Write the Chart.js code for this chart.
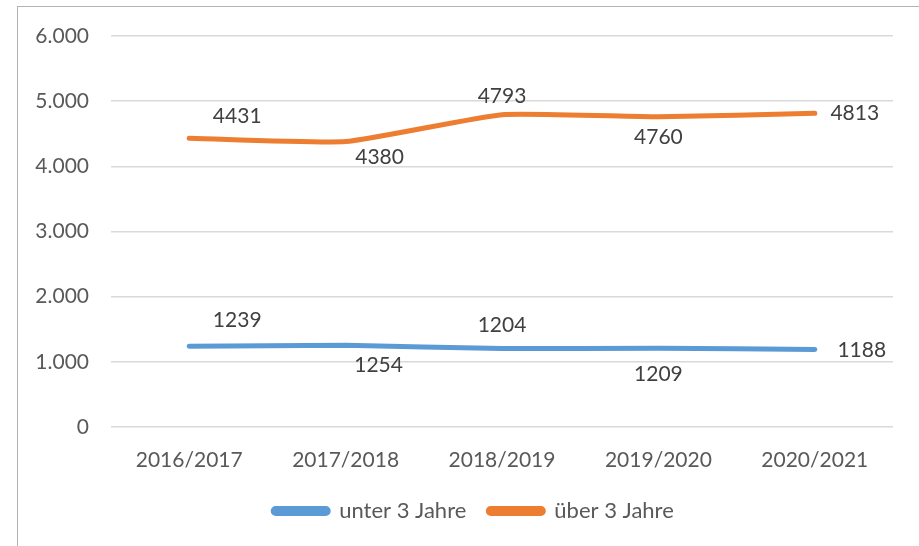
<!DOCTYPE html>
<html>
<head>
<meta charset="utf-8">
<script src="https://cdn.jsdelivr.net/npm/chart.js@4"></script>
<style>
  html, body { margin: 0; padding: 0; background: #fff; }
  #wrap { position: relative; width: 919px; height: 546px; overflow: hidden; }
  #frame { position: absolute; left: 17px; top: 6px; width: 1000px; height: 700px; border: 1px solid #b3b3b3; }
  canvas { position: absolute; left: 0; top: 0; }
</style>
</head>
<body>
<div id="wrap">
  <div id="frame"></div>
  <canvas id="lineChart" width="919" height="546"></canvas>
</div>
<script>
const years = ['2016/2017', '2017/2018', '2018/2019', '2019/2020', '2020/2021'];
const unter3 = [1239, 1254, 1204, 1209, 1188];
const ueber3 = [4431, 4380, 4793, 4760, 4813];
const yTicks = [0, 1000, 2000, 3000, 4000, 5000, 6000];

const textColor = '#595959';
const fontFamily = 'Lato, "Open Sans", sans-serif';

// draws the value next to each point, offsets come from the dataset config
const valueLabels = {
    id: 'valueLabels',
    afterDatasetsDraw(chart) {
        const ctx = chart.ctx;
        ctx.save();
        ctx.font = '21px ' + fontFamily;
        ctx.fillStyle = '#404040';
        ctx.textAlign = 'center';
        ctx.textBaseline = 'middle';
        chart.data.datasets.forEach(function(ds, i) {
            const meta = chart.getDatasetMeta(i);
            meta.data.forEach(function(pt, j) {
                ctx.fillText(String(ds.data[j]), pt.x + ds.labelDx[j], pt.y + ds.labelDy[j]);
            });
        });
        ctx.restore();
    }
};

// nudge the legend a bit to the right, like in the original
const legendShift = {
    id: 'legendShift',
    afterLayout(chart) {
        chart.legend.left += 27;
        chart.legend.right += 27;
    }
};

const ctx = document.getElementById('lineChart').getContext('2d');
const lineChart = new Chart(ctx, {
    type: 'line',
    data: {
        labels: years,
        datasets: [
            {
                label: 'unter 3 Jahre',
                data: unter3,
                borderColor: '#5b9bd5',
                backgroundColor: '#5b9bd5',
                borderWidth: 5,
                borderCapStyle: 'round',
                pointRadius: 0,
                tension: 0.15,
                labelDx: [48, 33, 0, 0, 47],
                labelDy: [-26, 20, -23, 26, 1]
            },
            {
                label: 'über 3 Jahre',
                data: ueber3,
                borderColor: '#ed7d31',
                backgroundColor: '#ed7d31',
                borderWidth: 5,
                borderCapStyle: 'round',
                pointRadius: 0,
                tension: 0.15,
                labelDx: [48, 34, 0, 0, 40],
                labelDy: [-22, 16, -18, 20, 0]
            }
        ]
    },
    options: {
        responsive: false,
        animation: false,
        layout: {
            padding: { top: 36, right: 26, left: 0, bottom: 14 }
        },
        scales: {
            y: {
                min: 0,
                max: 6000,
                afterBuildTicks: function(axis) {
                    axis.ticks = yTicks.map(function(v) { return { value: v }; });
                },
                afterFit: function(axis) { axis.width = 111; },
                border: { display: false },
                grid: { color: '#d9d9d9', lineWidth: 1.5, drawTicks: false },
                ticks: {
                    color: textColor,
                    padding: 22,
                    font: { family: fontFamily, size: 21 },
                    callback: function(v) { return v === 0 ? '0' : v.toLocaleString('de-DE'); }
                }
            },
            x: {
                offset: true,
                afterFit: function(axis) { axis.height = 51; },
                border: { display: false },
                grid: { display: false },
                ticks: {
                    color: textColor,
                    padding: 13,
                    maxRotation: 0,
                    font: { family: fontFamily, size: 21 }
                }
            }
        },
        plugins: {
            legend: {
                display: true,
                position: 'bottom',
                labels: {
                    color: textColor,
                    boxWidth: 55,
                    boxHeight: 5,
                    useBorderRadius: true,
                    borderRadius: 2.5,
                    padding: 22,
                    font: { family: fontFamily, size: 22 }
                }
            },
            tooltip: { enabled: false }
        }
    },
    plugins: [valueLabels, legendShift]
});
</script>
</body>
</html>
